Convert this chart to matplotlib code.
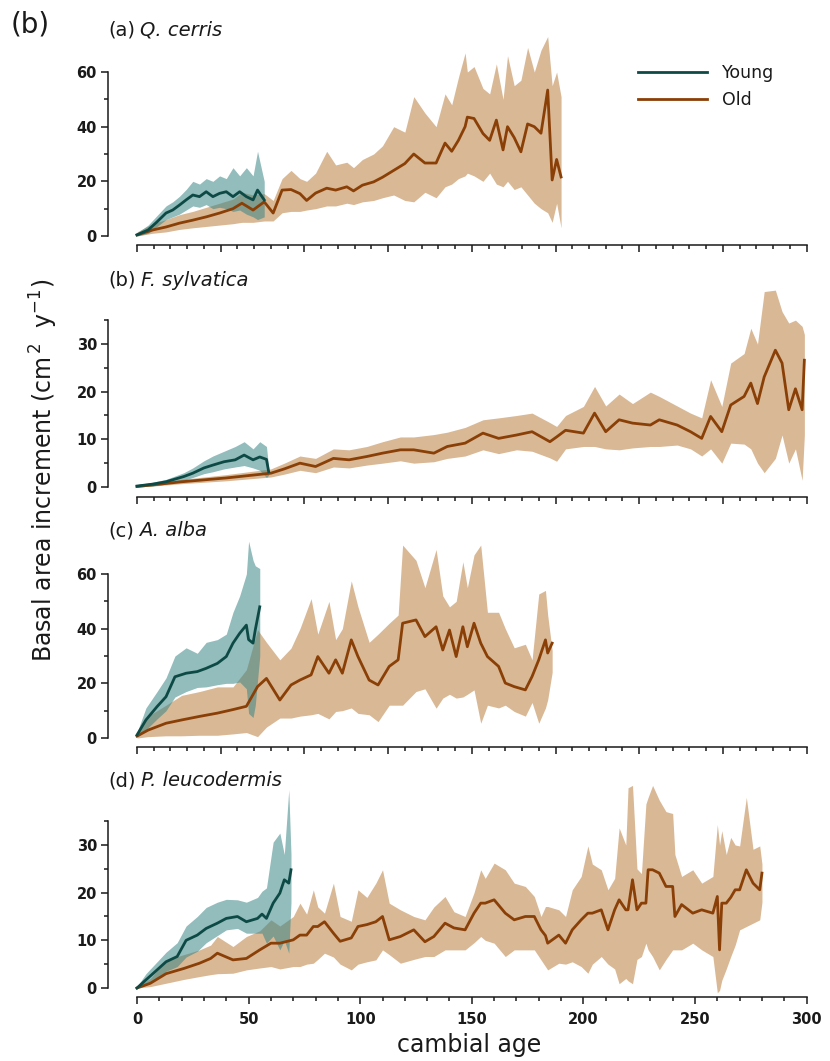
import numpy as np
import matplotlib
matplotlib.use("Agg")
import matplotlib.pyplot as plt
from matplotlib.ticker import FixedLocator, NullFormatter

# ---------------- data ----------------
# (a) Q. cerris
qc_young_age = [0, 5, 9, 13, 16, 19, 22, 25, 28, 31, 34, 37, 40, 43, 46, 49, 52, 54, 57]
qc_young_bai = [0.4, 2.2, 5.2, 8.4, 9.5, 11.3, 13.2, 15.0, 14.4, 16.2, 14.4, 15.6, 16.2, 14.4, 16.2, 14.4, 13.2, 16.8, 13.2]
qc_young_hi = [1.2, 4.0, 7.5, 11.0, 12.5, 14.5, 17.0, 20.0, 19.0, 21.0, 20.0, 22.0, 21.0, 25.0, 22.0, 25.0, 22.0, 31.0, 20.0]
qc_young_lo = [0, 1.0, 3.5, 6.0, 7.0, 8.0, 9.5, 11.0, 10.5, 11.5, 10.0, 10.5, 10.0, 9.0, 9.5, 8.0, 7.0, 6.0, 7.0]

qc_old_age = [0, 7, 13, 19, 25, 31, 37, 43, 47, 52,
              57, 61, 65, 69, 73, 76, 80, 85, 89, 94,
              97, 101, 106, 110, 115, 120, 124, 129, 134, 138,
              141, 144, 147, 148, 151, 155, 158, 161, 164, 166,
              169, 172, 175, 178, 181, 184, 186, 188, 190]
qc_old_bai = [0.4, 2.2, 3.3, 4.7, 5.8, 7.0, 8.4, 10.0, 12.0, 9.5,
              12.5, 8.4, 16.8, 17.0, 15.5, 13.0, 15.7, 17.5, 16.8, 18.0,
              16.5, 18.6, 19.8, 21.5, 24.0, 26.5, 30.0, 26.7, 26.7, 34.0,
              31.0, 35.0, 40.0, 43.5, 43.0, 37.5, 35.0, 42.4, 31.5, 40.0,
              36.0, 30.8, 41.0, 40.0, 37.6, 53.4, 20.5, 28.0, 21.6]
qc_old_hi = [1.5, 4.5, 6.0, 7.8, 9.0, 10.5, 12.0, 13.5, 16.0, 15.0,
             15.5, 13.0, 21.0, 24.0, 21.0, 20.0, 23.0, 31.0, 26.0, 27.0,
             25.0, 28.0, 30.0, 33.0, 40.0, 38.0, 51.0, 45.0, 40.0, 52.0,
             48.0, 58.0, 67.0, 60.0, 62.0, 54.0, 52.0, 63.0, 50.0, 66.0,
             55.0, 57.0, 69.0, 60.0, 68.0, 73.0, 55.0, 60.0, 51.0]
qc_old_lo = [0, 1.0, 1.5, 2.4, 3.0, 3.5, 4.0, 4.5, 5.0, 5.0,
             5.5, 5.5, 8.5, 9.0, 9.0, 9.5, 10.0, 11.0, 11.0, 12.0,
             11.5, 12.5, 13.0, 14.0, 15.0, 13.0, 12.5, 16.0, 14.0, 18.0,
             19.0, 21.0, 22.0, 23.0, 22.0, 20.0, 23.0, 19.0, 18.0, 20.0,
             17.0, 18.0, 15.0, 12.0, 10.0, 8.5, 5.0, 12.0, 3.0]

# (b) F. sylvatica
fs_young_age = [0, 7, 13, 21, 25, 30, 34, 39, 44, 48, 52, 55, 58, 59]
fs_young_bai = [0.2, 0.6, 1.1, 2.2, 2.9, 4.0, 4.6, 5.3, 5.7, 6.7, 5.7, 6.3, 5.8, 3.2]
fs_young_hi = [0.5, 1.0, 1.6, 3.0, 4.0, 5.5, 6.5, 7.5, 8.5, 9.5, 8.0, 9.5, 8.5, 4.0]
fs_young_lo = [0, 0.2, 0.6, 1.4, 2.0, 2.8, 3.2, 3.8, 4.2, 4.5, 4.0, 3.5, 2.0, 2.5]

fs_old_age = [0, 10, 20, 30, 40, 50, 60, 66, 73, 80,
              88, 95, 103, 110, 118, 124, 133, 139, 147, 155,
              162, 170, 177, 185, 188, 192, 200, 205, 210, 216,
              222, 230, 234, 242, 248, 253, 257, 262, 266, 272,
              275, 278, 281, 286, 289, 292, 295, 298, 299]
fs_old_bai = [0.1, 0.6, 1.1, 1.5, 1.9, 2.4, 2.9, 3.8, 5.0, 4.3,
              6.0, 5.7, 6.4, 7.1, 7.8, 7.8, 7.1, 8.5, 9.2, 11.3,
              10.2, 10.9, 11.6, 9.5, 10.5, 11.9, 11.3, 15.5, 11.6, 14.1,
              13.4, 13.0, 14.1, 13.0, 11.6, 10.2, 14.8, 11.6, 17.2, 19.0,
              21.8, 17.5, 23.1, 28.7, 26.0, 16.2, 20.6, 16.2, 26.6]
fs_old_hi = [0.3, 1.0, 1.6, 2.1, 2.6, 3.2, 3.8, 5.0, 6.5, 6.0,
             8.0, 7.8, 8.5, 9.5, 10.5, 10.5, 11.0, 11.5, 12.5, 14.1,
             14.5, 15.0, 15.5, 13.5, 12.7, 15.0, 16.9, 21.1, 17.0, 19.5,
             17.5, 19.9, 19.0, 17.0, 15.5, 14.5, 22.5, 16.9, 26.0, 28.0,
             33.3, 30.0, 41.0, 41.3, 36.8, 34.4, 35.0, 33.7, 32.0]
fs_old_lo = [0, 0.3, 0.7, 1.0, 1.3, 1.7, 2.1, 2.7, 3.5, 3.0,
             4.2, 4.0, 4.6, 5.0, 5.5, 5.0, 5.3, 6.0, 6.5, 7.8,
             7.0, 7.8, 7.5, 6.1, 5.4, 8.0, 8.5, 8.5, 8.0, 7.8,
             8.2, 8.5, 8.5, 8.8, 8.0, 6.5, 8.0, 5.0, 9.2, 9.0,
             8.0, 5.0, 3.0, 6.0, 10.9, 5.0, 8.0, 1.4, 10.9]

# (c) A. alba
aa_young_age = [0, 4, 9, 13, 17, 22, 27, 31, 36, 40, 43, 46, 49, 50, 52, 53, 55]
aa_young_bai = [1.1, 6.6, 11.5, 15.1, 22.4, 23.7, 24.3, 25.5, 27.3, 29.8, 34.7, 38.3, 41.3, 36.0, 34.7, 39.6, 48.0]
aa_young_hi = [2.0, 11.0, 17.0, 22.0, 30.0, 33.0, 31.0, 35.0, 36.0, 38.0, 46.0, 52.0, 60.0, 72.0, 65.0, 63.0, 62.0]
aa_young_lo = [0.2, 3.0, 7.0, 10.0, 15.0, 17.0, 18.5, 18.7, 19.5, 20.0, 20.0, 20.5, 18.0, 9.0, 7.5, 12.0, 30.0]

aa_old_age = [0, 5, 13, 20, 28, 36, 43, 49, 54, 58,
              64, 69, 73, 78, 81, 86, 89, 92, 96, 99,
              104, 108, 113, 117, 119, 125, 129, 134, 137, 140,
              143, 146, 148, 151, 154, 157, 162, 165, 169, 174,
              177, 180, 183, 184, 186]
aa_old_bai = [0.7, 2.9, 5.4, 6.6, 7.9, 9.1, 10.4, 11.6, 18.8, 21.8,
              13.9, 19.4, 21.2, 23.1, 29.8, 23.7, 28.6, 23.7, 35.9, 29.8,
              21.2, 19.4, 26.2, 28.6, 42.0, 43.2, 37.1, 40.7, 32.2, 39.5,
              29.8, 40.7, 33.4, 42.0, 34.7, 29.8, 26.2, 20.1, 18.8, 17.6,
              22.5, 28.6, 35.9, 31.1, 34.7]
aa_old_hi = [1.5, 8.0, 12.0, 15.6, 17.0, 18.7, 18.7, 25.0, 39.6, 35.0,
             28.6, 32.9, 40.0, 51.0, 38.0, 50.0, 36.0, 40.0, 57.5, 48.0,
             35.0, 38.0, 42.0, 45.0, 70.6, 65.0, 55.0, 69.0, 52.0, 48.0,
             50.0, 64.5, 55.0, 67.0, 70.6, 46.0, 46.0, 40.0, 33.0, 34.3,
             28.6, 52.7, 54.0, 45.0, 32.0]
aa_old_lo = [0, 0.5, 0.8, 0.8, 1.0, 1.0, 1.5, 2.0, 0.5, 4.0,
             7.3, 7.3, 8.0, 8.5, 9.0, 7.0, 9.7, 10.0, 11.0, 9.0,
             8.5, 6.0, 12.0, 12.0, 12.0, 17.0, 18.0, 10.9, 14.6, 16.0,
             14.6, 15.0, 16.0, 17.6, 5.4, 12.0, 11.0, 12.0, 9.7, 8.0,
             13.0, 5.4, 11.0, 14.0, 24.0]

# (d) P. leucodermis
pl_young_age = [0, 4, 9, 13, 18, 22, 27, 31, 36, 40, 45, 49, 54, 56, 58, 61, 64, 66, 68, 69]
pl_young_bai = [0, 1.7, 3.8, 5.5, 6.6, 10.0, 11.1, 12.5, 13.6, 14.6, 15.0, 13.9, 14.6, 15.5, 14.6, 17.8, 19.9, 22.7, 22.0, 24.8]
pl_young_hi = [0.3, 3.0, 5.5, 7.5, 9.5, 13.0, 15.0, 16.9, 18.0, 18.6, 18.5, 18.0, 19.0, 20.3, 21.0, 30.6, 32.5, 28.0, 41.6, 28.0]
pl_young_lo = [0, 0.6, 2.0, 3.5, 4.5, 6.5, 7.7, 9.5, 11.0, 12.2, 12.5, 11.5, 11.5, 11.5, 9.4, 10.9, 8.0, 10.0, 7.3, 18.0]

pl_old_age = [0, 6, 13, 21, 28, 33, 36, 43, 49, 55,
              60, 64, 70, 73, 76, 79, 81, 84, 88, 91,
              96, 99, 103, 107, 110, 113, 118, 124, 129, 133,
              138, 142, 147, 151, 154, 156, 160, 165, 169, 174,
              178, 181, 183, 184, 189, 192, 195, 199, 202, 204,
              208, 211, 214, 216, 219, 220, 222, 224, 226, 228,
              229, 231, 234, 237, 240, 241, 244, 249, 253, 258,
              260, 261, 262, 264, 266, 268, 270, 273, 276, 279,
              280]
pl_old_bai = [0, 1.0, 3.0, 4.1, 5.2, 6.2, 7.3, 5.9, 6.2, 8.0,
              9.4, 9.4, 10.1, 11.1, 11.1, 12.9, 12.9, 13.9, 11.5, 9.8,
              10.5, 12.9, 13.3, 13.9, 15.0, 10.1, 10.8, 12.2, 9.7, 10.8,
              13.6, 12.6, 12.2, 15.7, 17.8, 17.8, 18.5, 15.7, 14.3, 15.0,
              15.0, 12.2, 11.0, 9.4, 11.1, 9.4, 12.2, 14.3, 15.7, 15.7,
              16.4, 12.2, 16.4, 18.5, 16.4, 16.4, 22.7, 16.4, 17.8, 17.8,
              24.8, 24.8, 24.1, 21.3, 21.3, 15.0, 17.5, 15.7, 16.4, 15.7,
              19.2, 8.0, 17.8, 17.8, 19.0, 20.6, 20.6, 24.8, 22.0, 20.6,
              24.1]
pl_old_hi = [0.3, 2.0, 5.9, 7.0, 8.0, 9.0, 10.8, 8.7, 10.8, 12.0,
             14.3, 13.0, 15.0, 17.8, 15.5, 20.6, 17.0, 15.7, 22.0, 15.0,
             14.0, 20.6, 19.0, 22.0, 24.8, 17.8, 16.4, 15.0, 14.3, 17.0,
             19.2, 16.0, 15.0, 20.0, 24.8, 23.0, 26.2, 24.8, 22.0, 21.3,
             19.2, 15.0, 17.1, 17.1, 16.4, 15.0, 20.6, 23.4, 29.8, 26.0,
             24.8, 20.6, 23.0, 33.6, 30.0, 42.0, 42.5, 25.0, 24.0, 38.6,
             40.0, 42.5, 39.4, 37.0, 36.6, 28.0, 23.4, 24.8, 22.0, 23.4,
             34.3, 30.0, 33.0, 28.0, 31.6, 30.0, 29.8, 40.0, 29.1, 29.8,
             26.0]
pl_old_lo = [0, 0.3, 1.0, 1.8, 2.4, 2.8, 3.0, 3.1, 3.8, 4.2,
             4.5, 4.0, 4.5, 4.5, 5.0, 5.2, 6.0, 7.3, 6.5, 5.0,
             3.8, 5.0, 5.5, 5.9, 8.0, 7.0, 5.2, 6.0, 6.6, 6.6,
             8.0, 8.0, 8.0, 9.5, 10.8, 10.0, 9.4, 6.6, 8.0, 8.0,
             8.0, 5.9, 4.5, 3.8, 5.2, 5.0, 5.5, 4.5, 3.1, 5.0,
             6.6, 5.0, 4.0, 0.9, 2.0, 1.5, 0.9, 6.0, 6.6, 9.4,
             8.0, 6.6, 3.8, 6.0, 8.0, 8.0, 8.0, 9.4, 8.0, 6.6,
             -1.0, -0.5, 1.6, 4.0, 6.6, 9.0, 12.2, 12.9, 13.6, 14.3,
             18.0]

titles = ["(a)", "(b)", "(c)", "(d)"]
species = ["Q. cerris", "F. sylvatica", "A. alba", "P. leucodermis"]
series_labels = ["Young", "Old"]

# ---------------- style ----------------
W, H = 830, 1061
young_col = "#0d4a46"
young_band = "#3a8585"
old_col = "#8a3f06"
old_band = "#c0894f"
ink = "#1a1a1a"

plt.rcParams["font.family"] = ["DejaVu Sans"]
plt.rcParams["mathtext.fontset"] = "dejavusans"

fig = plt.figure(figsize=(W / 100, H / 100), dpi=100)
renderer = fig.canvas.get_renderer()

X0PX, PPX = 137.0, 2.232   # pixel of age 0, pixels per year
XLIM = (-4, 304)

# per-panel layout: pixel row of y=0, pixels per unit, ylim, ticks, x-spine data position, title row
layout = [
    dict(y0=236, ppu=2.733, ylim=(-1.5, 74), ymaj=[0, 20, 40, 60], ymin=[10, 30, 50], top=60, xspine=-3.3, ty=30),
    dict(y0=487, ppu=4.767, ylim=(-1.0, 42.5), ymaj=[0, 10, 20, 30], ymin=[5, 15, 25, 35], top=35, xspine=-2.1, ty=280),
    dict(y0=738, ppu=2.733, ylim=(-1.5, 74), ymaj=[0, 20, 40, 60], ymin=[10, 30, 50], top=60, xspine=-3.3, ty=531),
    dict(y0=988, ppu=4.767, ylim=(-1.5, 42.5), ymaj=[0, 10, 20, 30], ymin=[5, 15, 25, 35], top=35, xspine=-1.9, ty=781),
]

data = [
    (qc_young_age, qc_young_bai, qc_young_lo, qc_young_hi, qc_old_age, qc_old_bai, qc_old_lo, qc_old_hi),
    (fs_young_age, fs_young_bai, fs_young_lo, fs_young_hi, fs_old_age, fs_old_bai, fs_old_lo, fs_old_hi),
    (aa_young_age, aa_young_bai, aa_young_lo, aa_young_hi, aa_old_age, aa_old_bai, aa_old_lo, aa_old_hi),
    (pl_young_age, pl_young_bai, pl_young_lo, pl_young_hi, pl_old_age, pl_old_bai, pl_old_lo, pl_old_hi),
]

axes = []
for i, (lay, d) in enumerate(zip(layout, data)):
    y_lo, y_hi = lay["ylim"]
    bot = lay["y0"] - y_lo * lay["ppu"]
    top = lay["y0"] - y_hi * lay["ppu"]
    left = X0PX + XLIM[0] * PPX
    right = X0PX + XLIM[1] * PPX
    ax = fig.add_axes([left / W, 1 - bot / H, (right - left) / W, (bot - top) / H])
    ax.set_xlim(*XLIM)
    ax.set_ylim(y_lo, y_hi)
    ax.patch.set_visible(False)

    ya, ym, yl, yh, oa, om, ol, oh = [np.asarray(v, dtype=float) for v in d]
    ax.fill_between(oa, ol, oh, color=old_band, alpha=0.6, lw=0, zorder=1)
    ax.fill_between(ya, yl, yh, color=young_band, alpha=0.55, lw=0, zorder=2)
    l_old, = ax.plot(oa, om, color=old_col, lw=2.0, zorder=3, label=series_labels[1])
    l_young, = ax.plot(ya, ym, color=young_col, lw=2.0, zorder=4, label=series_labels[0])

    # R-like axes: detached spines spanning only the tick range
    for s in ("top", "right"):
        ax.spines[s].set_visible(False)
    ax.spines["left"].set_position(("outward", 14.4))
    ax.spines["left"].set_bounds(0, lay["top"])
    ax.spines["bottom"].set_position(("data", lay["xspine"]))
    ax.spines["bottom"].set_bounds(0, 300)
    for s in ("left", "bottom"):
        ax.spines[s].set_linewidth(1.1)
        ax.spines[s].set_color(ink)

    ax.yaxis.set_major_locator(FixedLocator(lay["ymaj"]))
    ax.yaxis.set_minor_locator(FixedLocator(lay["ymin"]))
    if i < 3:
        ax.xaxis.set_major_locator(FixedLocator(np.arange(0, 301, 37.5)))
        ax.xaxis.set_minor_locator(FixedLocator(np.arange(0, 301, 7.5)))
        ax.xaxis.set_major_formatter(NullFormatter())
    else:
        ax.xaxis.set_major_locator(FixedLocator(np.arange(0, 301, 50)))
        ax.xaxis.set_minor_locator(FixedLocator(np.arange(0, 301, 10)))
    ax.tick_params(which="major", direction="out", length=5, width=1.1, color=ink,
                   labelsize=10.5, labelcolor=ink, pad=3)
    ax.tick_params(which="minor", direction="out", length=3, width=1.1, color=ink)
    ax.tick_params(axis="x", which="major", pad=6)
    for lab in ax.get_xticklabels() + ax.get_yticklabels():
        lab.set_fontweight("bold")

    # panel title: "(a)" upright, species name italic
    t1 = fig.text(108 / W, 1 - lay["ty"] / H, titles[i], fontsize=14, color=ink,
                  ha="left", va="center")
    x_end = t1.get_window_extent(renderer).x1
    fig.text((x_end + 5) / W, 1 - lay["ty"] / H, species[i], fontsize=14, color=ink,
             style="italic", ha="left", va="center")
    axes.append((ax, l_young, l_old))

# legend in the top panel
ax0, ly, lo_ = axes[0]
ax0.legend(handles=[ly, lo_], loc="upper left", bbox_to_anchor=(638 / W, 1 - 64 / H),
           bbox_transform=fig.transFigure, frameon=False, fontsize=12.5,
           handlelength=4.0, handletextpad=0.85, labelspacing=0.5,
           borderpad=0, borderaxespad=0, labelcolor=ink)

fig.text(30 / W, 1 - 25 / H, "(b)", fontsize=20, color=ink, ha="center", va="center")
fig.text(44 / W, 1 - 470 / H, r"Basal area increment (cm$^{\,2}$  y$^{-1}$)",
         fontsize=17, color=ink, rotation=90, ha="center", va="center")
fig.text(469 / W, 1 - 1045 / H, "cambial age", fontsize=17, color=ink, ha="center", va="center")

fig.savefig("out.png", dpi=100)
